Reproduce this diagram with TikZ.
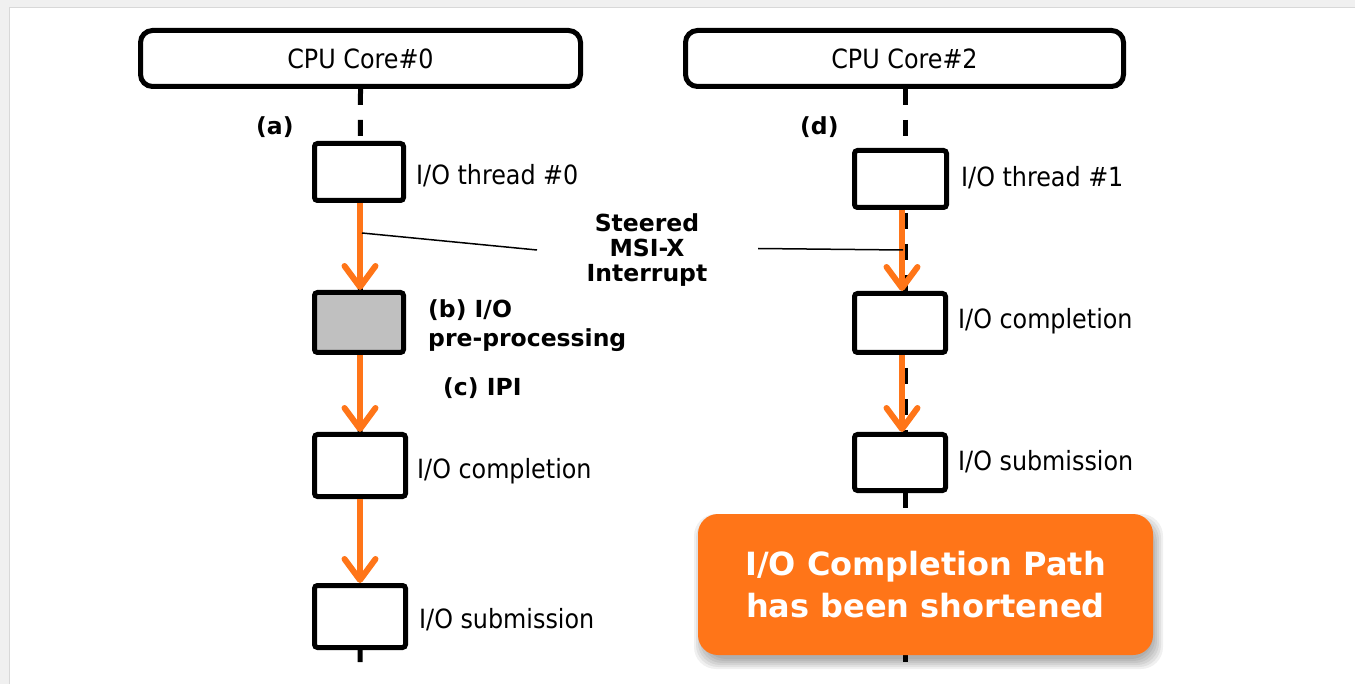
\documentclass[tikz,border=0pt]{standalone}
\usepackage{fontspec}
\usetikzlibrary{arrows.meta}
\IfFontExistsTF{DejaVu Sans Condensed}
 {\newfontfamily\regfam{DejaVu Sans Condensed}\newcommand\regsz{\fontsize{26.5}{30}\selectfont}}
 {\newfontfamily\regfam{DejaVu Sans}\newcommand\regsz{\fontsize{24}{28}\selectfont}}
\newfontfamily\boldfam{DejaVu Sans}
\definecolor{orng}{RGB}{255,117,24}
\definecolor{bggray}{RGB}{240,240,240}
\definecolor{bgline}{RGB}{216,216,216}
\definecolor{boxgray}{RGB}{192,192,192}
\tikzset{
  core/.style={draw, line width=5pt, rounded corners=12pt, fill=white, inner sep=0pt,
    font=\regfam\regsz},
  blk/.style={draw, line width=5pt, rounded corners=3pt, fill=white, inner sep=0pt,
    minimum width=90pt},
  lbl/.style={anchor=base west, inner sep=0pt, font=\regfam\regsz},
  blbl/.style={anchor=base west, inner sep=0pt, font=\boldfam\bfseries\fontsize{23.5}{25}\selectfont},
  flow/.style={draw=orng, line width=6pt, -{Straight Barb[length=21pt,width=31pt,round]}},
  vline/.style={line width=5pt, dash pattern=on 16pt off 15pt},
  leader/.style={line width=1.5pt},
  callout/.style={fill=orng, rounded corners=20pt, text=white, align=center, inner sep=0pt,
    font=\boldfam\bfseries\fontsize{32}{42}\selectfont},
  shadowlayer/.style={fill=black, fill opacity=0.06, rounded corners=22pt}
}
\begin{document}
\begin{tikzpicture}[x=1pt,y=-1pt]
\useasboundingbox (0,0) rectangle (1355,684);
\fill[bggray] (0,0) rectangle (1355,684);
\filldraw[fill=white, draw=bgline, line width=1.5pt] (9.5,7.5) rectangle (1362,692);

% core boxes
\node[core, minimum width=440pt, minimum height=56pt] (core0) at (360.5,58.5) {CPU Core\#0};
\node[core, minimum width=438pt, minimum height=56pt] (core2) at (904.5,58.5) {CPU Core\#2};

% bottom coordinates for dashed lines
\coordinate (bot0) at (360,662);
\coordinate (bot2) at (905,662);
\draw[vline] (core0.south) -- (bot0);
\draw[vline] ([xshift=0.5pt]core2.south) -- (bot2);

% left column
\node[blk, minimum width=89pt, minimum height=57pt] (t0) at (359,172) {};
\node[blk, minimum width=89pt, minimum height=60pt, fill=boxgray] (pre) at (359,322.5) {};
\node[blk, minimum width=91pt, minimum height=62pt] (c0) at (360,465.5) {};
\node[blk, minimum width=91pt, minimum height=62pt] (s0) at (360,616.5) {};

% right column
\node[blk, minimum width=92pt, minimum height=57pt] (t1) at (900.5,179) {};
\node[blk, minimum width=91pt, minimum height=59pt] (c1) at (900,323) {};
\node[blk, minimum width=91pt, minimum height=56pt] (s1) at (900,462.5) {};

% orange arrows
\draw[flow] ([xshift=1pt]t0.south) -- ([xshift=1pt]pre.north);
\draw[flow] ([xshift=1pt]pre.south) -- (c0.north);
\draw[flow] (c0.south) -- (s0.north);
\draw[flow] ([xshift=1.5pt]t1.south) -- ([xshift=2pt]c1.north);
\draw[flow] ([xshift=2pt]c1.south) -- ([xshift=2pt]s1.north);

% labels
\node[lbl] (lt0) at (416,185) {I/O thread \#0};
\node[lbl] (lc0) at (417,478) {I/O completion};
\node[lbl] (ls0) at (419,628) {I/O submission};
\node[lbl] (lt1) at (961,186.5) {I/O thread \#1};
\node[lbl] (lc1) at (958,329) {I/O completion};
\node[lbl] (ls1) at (958,471) {I/O submission};

\node[blbl] (la) at (256,135) {(a)};
\node[blbl] (ld) at (800,135) {(d)};
\node[blbl] (lb1) at (428,318) {(b) I/O};
\node[blbl] (lb2) at (428,347) {pre-processing};
\node[blbl] (lc) at (443,396) {(c) IPI};

% steered MSI-X
\node[align=center, inner sep=0pt, font=\boldfam\bfseries\fontsize{23.5}{25}\selectfont] (msi) at (647,250) {Steered\\MSI-X\\Interrupt};
\coordinate (ml1) at (362,233);
\coordinate (ml2) at (537,250);
\coordinate (mr1) at (758,248.5);
\coordinate (mr2) at (903,250);
\draw[leader] (ml1) -- (ml2);
\draw[leader] (mr1) -- (mr2);

% callout shadow (soft, offset down-right)
\coordinate (cnw) at (698,514);
\coordinate (cse) at (1153,655);
\foreach \e in {-3,-1,1,3,5,7} {
  \fill[shadowlayer] ([shift={(3-\e,7-\e)}]cnw) rectangle ([shift={(3+\e,7+\e)}]cse);
}
% callout
\node[callout, minimum width=455pt, minimum height=141pt] (call) at (925.5,584.5) {I/O Completion Path\\has been shortened};
\end{tikzpicture}
\end{document}
